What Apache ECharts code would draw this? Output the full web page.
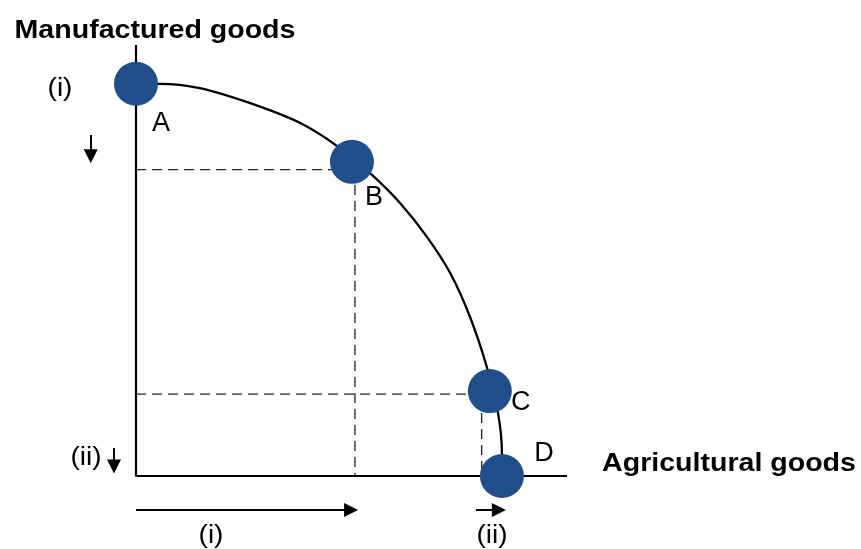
<!DOCTYPE html>
<html>
<head>
<meta charset="utf-8">
<script src="https://cdn.jsdelivr.net/npm/echarts@6/dist/echarts.min.js"></script>
<style>
html, body { margin: 0; padding: 0; background: #fff; }
#chart { width: 861px; height: 549px; }
</style>
</head>
<body>
<div id="chart"></div>
<script>
// production possibility frontier (axes run 0..100)
const frontier = [
    [0, 91], [5.6, 91], [14.8, 90], [26.5, 86.5], [38.1, 81.9], [46.6, 76.6],
    [54.8, 69.8], [61.3, 63.3], [67.5, 55.5], [72.9, 47.1], [77.5, 36.9],
    [81.4, 25.3], [84, 14.6], [84.9, 5.3], [84.9, 0]
];
const pointNames = ['A', 'B', 'C', 'D'];
const pointValues = [[0, 91], [50.1, 72.9], [82.1, 19.7], [84.9, 0]];

// dashed guide lines
const guides = [
    [[0, 71.1], [47.3, 71.1]],
    [[50.8, 67.5], [50.8, 0]],
    [[0, 19], [77.5, 19]],
    [[80.2, 14.6], [80.2, 0]]
];

// axes drawn as lines
const axisPath = [[0, 100], [0, 0], [100, 0]];

// change arrows
const arrows = [
    [[-10.5, 79.1], [-10.5, 74.2]],
    [[-5.1, 6.5], [-5.1, 2.2]],
    [[0, -7.9], [49.9, -7.9]],
    [[78.9, -7.9], [84.2, -7.9]]
];

const labelOffsets = [[25, 40], [22, 36], [31, 11], [42, -22]];

const font = '"Liberation Sans", Arial, sans-serif';
const chart = echarts.init(document.getElementById('chart'));

function text(str, x, y, size, bold) {
    return {
        type: 'text', x: x, y: y, scaleX: 1.12,
        style: {
            text: str, x: 0, y: 0,
            font: (bold ? 'bold ' : '') + size + 'px ' + font,
            fill: '#000',
            align: 'center', verticalAlign: 'middle',
            textAlign: 'center', textVerticalAlign: 'middle'
        }
    };
}

const series = [];

series.push({
    type: 'line', data: axisPath, symbol: 'none', silent: true, z: 3,
    lineStyle: { color: '#000', width: 2.2 },
    markLine: {
        silent: true, symbol: ['none', 'triangle'], symbolSize: 14,
        label: { show: false },
        lineStyle: { color: '#000', width: 2, type: 'solid' },
        emphasis: { disabled: true },
        data: arrows.map(a => [{ coord: a[0] }, { coord: a[1] }])
    }
});

guides.forEach(g => series.push({
    type: 'line', data: g, symbol: 'none', silent: true, z: 2,
    lineStyle: { color: '#222', width: 1.3, type: [10, 6] }
}));

series.push({
    type: 'line', data: frontier, symbol: 'none', smooth: 0.3, silent: true, z: 4,
    lineStyle: { color: '#000', width: 2.3 }
});

series.push({
    type: 'scatter', z: 5, symbolSize: 44, silent: true,
    itemStyle: { color: '#1f4e88', opacity: 1 },
    label: {
        show: true, position: 'inside', formatter: '{b}',
        color: '#000', fontSize: 27, fontFamily: font
    },
    data: pointValues.map((v, i) => ({
        name: pointNames[i], value: v,
        label: { offset: labelOffsets[i] }
    }))
});

chart.setOption({
    animation: false,
    backgroundColor: '#fff',
    grid: { left: 6.7, top: 1.9, width: 840.45, height: 538.75 },
    xAxis: { type: 'value', min: -30, max: 165, show: false },
    yAxis: { type: 'value', min: -15, max: 110, show: false },
    series: series,
    graphic: [
        text('Manufactured goods', 155, 31, 25.5, true),
        text('Agricultural goods', 729, 464, 25.5, true),
        text('(i)', 60, 89, 25, false),
        text('(ii)', 86, 458, 25, false),
        text('(i)', 211, 536, 25, false),
        text('(ii)', 492, 536, 25, false)
    ]
});
</script>
</body>
</html>
